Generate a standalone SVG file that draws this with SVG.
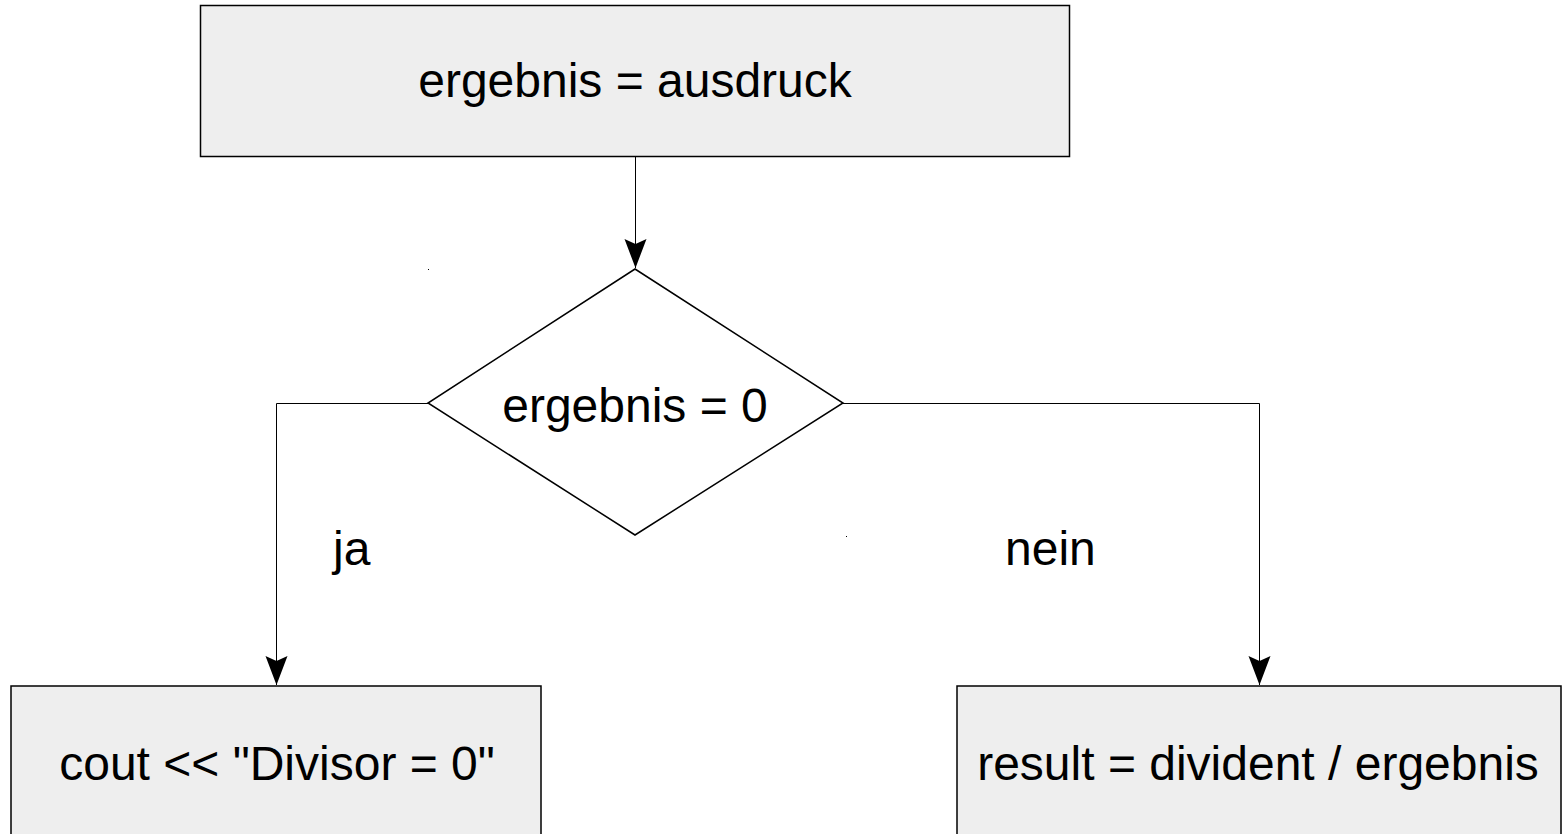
<svg xmlns="http://www.w3.org/2000/svg" width="1566" height="834" viewBox="0 0 1566 834">
  <style>
    .box { fill: #eeeeee; stroke: #000000; stroke-width: 1.5; }
    .wire { fill: none; stroke: #000000; stroke-width: 1; }
    .label { font-family: "Liberation Sans", Arial, sans-serif; font-size: 48px; fill: #000000; }
  </style>
  <defs>
    <!-- notched arrowhead, tip at the path end -->
    <marker id="arrow" viewBox="-30 -12 31 24" markerWidth="31" markerHeight="24" refX="0" refY="0" markerUnits="userSpaceOnUse" orient="auto" overflow="visible">
      <path d="M0,0 L-29,-11 L-24,0 L-29,11 Z" fill="#000000"/>
    </marker>
  </defs>

  <rect width="1566" height="834" fill="#ffffff"/>

  <!-- process: assignment -->
  <g id="node-assign">
    <rect class="box" x="200.5" y="5.5" width="869" height="151"/>
    <text class="label" x="635" y="97" text-anchor="middle">ergebnis = ausdruck</text>
  </g>

  <!-- decision -->
  <g id="node-check">
    <polygon class="box" style="fill:#ffffff" points="635,269 843,403 635,535 428,403"/>
    <text class="label" x="635" y="422" text-anchor="middle">ergebnis = 0</text>
  </g>

  <!-- yes branch -->
  <g id="node-error">
    <rect class="box" x="11" y="686" width="530" height="160"/>
    <text class="label" x="277" y="780" text-anchor="middle">cout &lt;&lt; "Divisor = 0"</text>
  </g>

  <!-- no branch -->
  <g id="node-divide">
    <rect class="box" x="957" y="686" width="604" height="160"/>
    <text class="label" x="1258" y="780" text-anchor="middle">result = divident / ergebnis</text>
  </g>

  <!-- connectors -->
  <g id="connectors">
    <path class="wire" d="M635.5,157 V268" marker-end="url(#arrow)"/>
    <path class="wire" d="M428,403.5 H276.5 V685" marker-end="url(#arrow)"/>
    <path class="wire" d="M843,403.5 H1259.5 V685" marker-end="url(#arrow)"/>
    <text class="label" x="333" y="565">ja</text>
    <text class="label" x="1005" y="565">nein</text>
  </g>

  <!-- stray points -->
  <rect x="428" y="269" width="1" height="1" fill="#000000"/>
  <rect x="846" y="536" width="1" height="1" fill="#000000"/>
</svg>
